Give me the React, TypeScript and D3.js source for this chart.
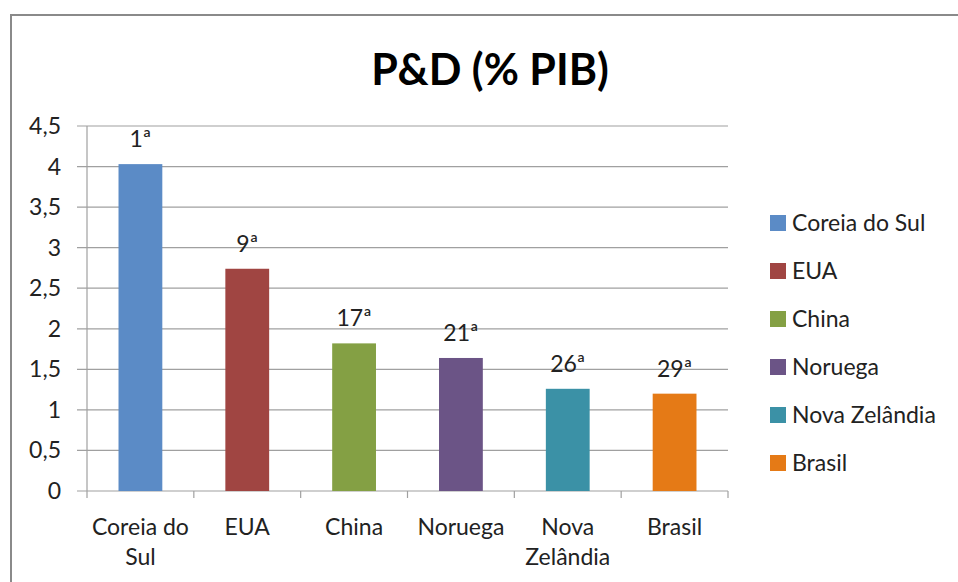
import React, { useEffect, useRef } from 'react';
import * as d3 from 'd3';

const categories = ['Coreia do Sul', 'EUA', 'China', 'Noruega', 'Nova Zelândia', 'Brasil'];
const axisLabels = [['Coreia do', 'Sul'], ['EUA'], ['China'], ['Noruega'], ['Nova', 'Zelândia'], ['Brasil']];
const values = [4.03, 2.74, 1.82, 1.64, 1.26, 1.2];
const ranks = ['1ª', '9ª', '17ª', '21ª', '26ª', '29ª'];
const colors = ['#5b8bc6', '#a04542', '#84a044', '#6b5486', '#3b91a6', '#e57a16'];
const yTicks = [0, 0.5, 1, 1.5, 2, 2.5, 3, 3.5, 4, 4.5];

const W = 958, H = 582;
const FONT = 'Lato, "Open Sans", sans-serif';

export default function App() {
  const ref = useRef<SVGSVGElement>(null);

  useEffect(() => {
    const svg = d3.select(ref.current);
    svg.selectAll('*').remove();

    // chart frame, cropped at right and bottom
    svg.append('rect')
      .attr('x', 11).attr('y', 15)
      .attr('width', 1000).attr('height', 1000)
      .attr('fill', 'white')
      .attr('stroke', '#8a8a8a').attr('stroke-width', 2);

    svg.append('text')
      .attr('x', 490).attr('y', 85)
      .attr('text-anchor', 'middle')
      .attr('font-family', FONT).attr('font-weight', 'bold')
      .attr('font-size', 43).attr('fill', '#000')
      .text('P&D (% PIB)');

    const left = 87, right = 728, top = 126, bottom = 491;
    const x = d3.scaleBand().domain(categories).range([left, right]).paddingInner(0.59).paddingOuter(0.295);
    const y = d3.scaleLinear().domain([0, 4.5]).range([bottom, top]);

    const g = svg.append('g');

    // gridlines + y ticks
    g.selectAll('line.grid').data(yTicks).enter().append('line')
      .attr('x1', left - 10).attr('x2', right)
      .attr('y1', d => y(d)).attr('y2', d => y(d))
      .attr('stroke', '#a0a0a0').attr('stroke-width', 1.2);

    g.selectAll('text.ytick').data(yTicks).enter().append('text')
      .attr('x', 61).attr('y', d => y(d))
      .attr('dy', '0.35em')
      .attr('text-anchor', 'end')
      .attr('font-family', FONT).attr('font-size', 23).attr('fill', '#222')
      .text(d => d3.format('.1~f')(d).replace('.', ','));

    // y axis line
    g.append('line')
      .attr('x1', left).attr('x2', left).attr('y1', top).attr('y2', bottom)
      .attr('stroke', '#a0a0a0').attr('stroke-width', 1.2);

    // x ticks at band boundaries
    const step = x.step();
    const bounds = d3.range(categories.length + 1).map(i => left + i * step);
    g.selectAll('line.xtick').data(bounds).enter().append('line')
      .attr('x1', d => d).attr('x2', d => d)
      .attr('y1', bottom).attr('y2', bottom + 7)
      .attr('stroke', '#a0a0a0').attr('stroke-width', 1.2);

    // bars
    g.selectAll('rect.bar').data(values).enter().append('rect')
      .attr('x', (d, i) => x(categories[i])!)
      .attr('width', x.bandwidth())
      .attr('y', d => y(d))
      .attr('height', d => y(0) - y(d))
      .attr('fill', (d, i) => colors[i]);

    // rank labels
    g.selectAll('text.rank').data(values).enter().append('text')
      .attr('x', (d, i) => x(categories[i])! + x.bandwidth() / 2)
      .attr('y', d => y(d) - 17)
      .attr('text-anchor', 'middle')
      .attr('font-family', FONT).attr('font-size', 23).attr('fill', '#222')
      .text((d, i) => ranks[i]);

    // category labels
    axisLabels.forEach((lines, i) => {
      const cx = x(categories[i])! + x.bandwidth() / 2;
      const t = g.append('text')
        .attr('x', cx)
        .attr('y', 535)
        .attr('text-anchor', 'middle')
        .attr('font-family', FONT).attr('font-size', 23).attr('fill', '#222');
      lines.forEach((ln, j) => {
        t.append('tspan').attr('x', cx).attr('dy', j === 0 ? 0 : 30).text(ln);
      });
    });

    // legend
    const leg = g.selectAll('g.leg').data(categories).enter().append('g')
      .attr('transform', (d, i) => `translate(770, ${223 + i * 48})`);
    leg.append('rect')
      .attr('x', 0).attr('y', -8).attr('width', 16).attr('height', 16)
      .attr('fill', (d, i) => colors[i]);
    leg.append('text')
      .attr('x', 22).attr('y', 0).attr('dy', '0.35em')
      .attr('font-family', FONT).attr('font-size', 23).attr('fill', '#222')
      .text(d => d);
  }, []);

  return (
    <svg ref={ref} width={W} height={H}
      style={{ position: 'absolute', left: 0, top: 0, display: 'block', background: 'white' }} />
  );
}
